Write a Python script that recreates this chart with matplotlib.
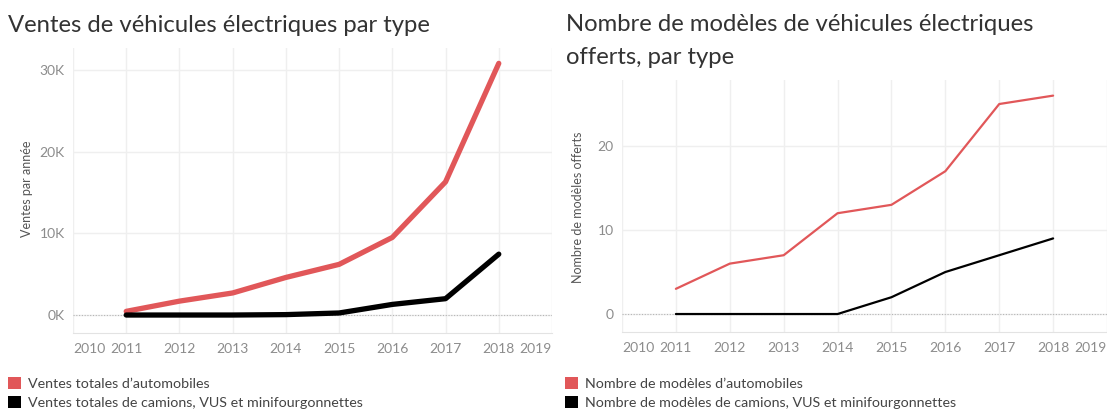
import matplotlib
matplotlib.use("Agg")
import matplotlib.pyplot as plt
from matplotlib.patches import Patch
from matplotlib.ticker import FuncFormatter
from matplotlib.transforms import Bbox, TransformedBbox

# données
annees = [2011, 2012, 2013, 2014, 2015, 2016, 2017, 2018]
ventes_auto = [450, 1700, 2700, 4600, 6200, 9500, 16300, 30800]
ventes_camions = [0, 0, 0, 50, 250, 1300, 2000, 7450]
modeles_auto = [3, 6, 7, 12, 13, 17, 25, 26]
modeles_camions = [0, 0, 0, 0, 2, 5, 7, 9]

annees_axe = [2010, 2011, 2012, 2013, 2014, 2015, 2016, 2017, 2018, 2019]
ticks_ventes = [0, 10000, 20000, 30000]
ticks_modeles = [0, 10, 20]

titre_ventes = "Ventes de véhicules électriques par type"
titre_modeles = "Nombre de modèles de véhicules électriques\nofferts, par type"
ylabel_ventes = "Ventes par année"
ylabel_modeles = "Nombre de modèles offerts"
legende_ventes = ["Ventes totales d’automobiles",
                  "Ventes totales de camions, VUS et minifourgonnettes"]
legende_modeles = ["Nombre de modèles d’automobiles",
                   "Nombre de modèles de camions, VUS et minifourgonnettes"]

ROUGE = "#e15759"
NOIR = "#000000"

W, H = 1107, 413
plt.rcParams["font.family"] = ["Lato", "DejaVu Sans"]


def fmt_k(y, _pos):
    return f"{y / 1000:.0f}K"


def style_axe(ax, fig, x_clip):
    ax.set_facecolor("white")
    for s in ("top", "right", "left"):
        ax.spines[s].set_visible(False)
    ax.spines["bottom"].set_color("#e3e3e3")
    ax.grid(True, color="#efefef", linewidth=1.0)
    ax.set_axisbelow(True)
    ax.axhline(0, color="#b5b5b5", linewidth=0.8, linestyle=(0, (1, 1.5)), zorder=1)
    ax.set_xlim(2010, 2019)
    ax.set_xticks(annees_axe)
    ax.set_xticklabels([str(a) for a in annees_axe])
    ax.tick_params(axis="both", length=0, labelsize=10, labelcolor="#8c8c8c")
    ax.tick_params(axis="x", pad=7)
    ax.tick_params(axis="y", pad=6)
    labels = ax.get_xticklabels()
    labels[0].set_ha("left")
    labels[-1].set_ha("right")
    clip = TransformedBbox(Bbox.from_extents(0, 0, x_clip / W, 1), fig.transFigure)
    for lab in labels:
        lab.set_clip_box(clip)
        lab.set_clip_on(True)


fig = plt.figure(figsize=(W / 100, H / 100), dpi=100)

# --- ventes ---
ax1 = fig.add_axes([73 / W, 1 - 333 / H, 479 / W, 285 / H])
style_axe(ax1, fig, 553)
ax1.plot(annees, ventes_auto, color=ROUGE, linewidth=3.8,
         solid_capstyle="round", solid_joinstyle="round", zorder=3)
ax1.plot(annees, ventes_camions, color=NOIR, linewidth=3.8,
         solid_capstyle="round", solid_joinstyle="round", zorder=4)
ax1.set_ylim(-2200, 32680)
ax1.set_yticks(ticks_ventes)
ax1.yaxis.set_major_formatter(FuncFormatter(fmt_k))

# --- modèles ---
ax2 = fig.add_axes([622 / W, 1 - 332 / H, 485 / W, 252 / H])
style_axe(ax2, fig, W)
ax2.plot(annees, modeles_auto, color=ROUGE, linewidth=1.6,
         solid_capstyle="round", solid_joinstyle="round", zorder=3)
ax2.plot(annees, modeles_camions, color=NOIR, linewidth=1.6,
         solid_capstyle="round", solid_joinstyle="round", zorder=4)
ax2.set_ylim(-2.14, 27.86)
ax2.set_yticks(ticks_modeles)

# titres
fig.text(8 / W, 1 - 32 / H, titre_ventes, fontsize=17.2, color="#333333", va="baseline")
for i, ligne in enumerate(titre_modeles.split("\n")):
    fig.text(566 / W, 1 - (31 + 33 * i) / H, ligne, fontsize=17.2, color="#333333",
             va="baseline")

# titres d'axes
fig.text(27 / W, 1 - 189 / H, ylabel_ventes, rotation=90, fontsize=9,
         color="#555555", ha="center", va="center")
fig.text(578 / W, 1 - 207 / H, ylabel_modeles, rotation=90, fontsize=9,
         color="#555555", ha="center", va="center")

# légendes
for x0, textes in ((8, legende_ventes), (565, legende_modeles)):
    handles = [Patch(facecolor=c, edgecolor="none") for c in (ROUGE, NOIR)]
    fig.legend(handles, textes, loc="upper left",
               bbox_to_anchor=(x0 / W, 1 - 377 / H), frameon=False,
               fontsize=10.3, labelcolor="#444444", handlelength=0.88,
               handleheight=0.95, handletextpad=0.55, labelspacing=0.42,
               borderpad=0, borderaxespad=0)

fig.savefig("out.png", dpi=100, facecolor="white")
